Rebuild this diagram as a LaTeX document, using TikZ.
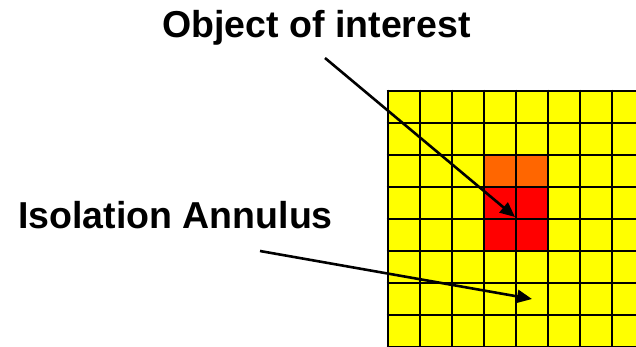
\documentclass[tikz,border=0pt]{standalone}
\usepackage{fontspec}
\setmainfont{Liberation Sans}
\usetikzlibrary{arrows.meta}
\definecolor{cellyellow}{HTML}{FFFF00}
\definecolor{cellorange}{HTML}{FF6600}
\definecolor{cellred}{HTML}{FF0000}
\begin{document}
\begin{tikzpicture}[x=1pt,y=-1pt,
  lbl/.style={font=\fontsize{37.5}{42}\selectfont\bfseries, inner sep=0pt, anchor=base},
  gridline/.style={line width=2.8pt, black},
  pointer/.style={line width=2.6pt, -{Triangle[length=15pt,width=13pt]}}]
\useasboundingbox (0,0) rectangle (636,347);
\begin{scope}
  \clip (0,0) rectangle (636,347);
  \fill[cellyellow] (388,91) rectangle (660,360);
  \fill[cellorange] (484,155) rectangle (548,187);
  \fill[cellred] (484,187) rectangle (548,251);
  \foreach \x in {388,420,...,644} \draw[gridline] (\x,89.6) -- (\x,360);
  \foreach \y in {91,123,...,347} \draw[gridline] (386.6,\y) -- (660,\y);
\end{scope}
\node[lbl] (obj) at (316.5,37.5) {Object of interest};
\node[lbl] (iso) at (175.5,228.5) {Isolation Annulus};
\coordinate (s1) at (325,58);
\coordinate (t1) at (515,217);
\coordinate (s2) at (260,251);
\coordinate (t2) at (532,299);
\draw[pointer] (s1) -- (t1);
\draw[pointer] (s2) -- (t2);
\end{tikzpicture}
\end{document}
